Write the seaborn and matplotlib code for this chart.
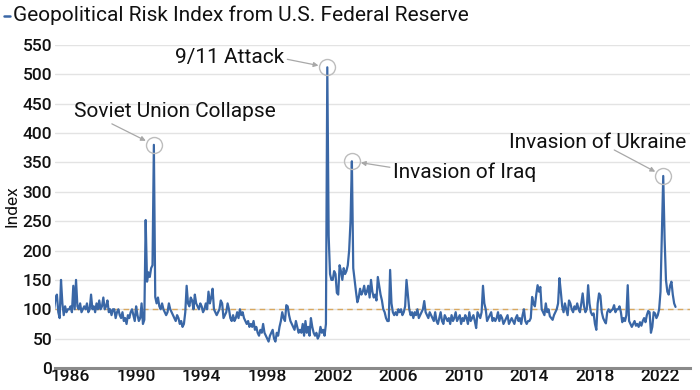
import numpy as np
import pandas as pd
import matplotlib
matplotlib.use("Agg")
import matplotlib.pyplot as plt
from matplotlib.lines import Line2D
import seaborn as sns

# ---------------- data (monthly, Jan 1985 - Dec 2022) ----------------
years = list(range(1985, 2023))
gpr_by_year = {
    1985: [100, 120, 125, 95, 85, 150, 110, 90, 105, 95, 100, 100],
    1986: [105, 95, 140, 100, 150, 105, 100, 110, 95, 100, 105, 100],
    1987: [110, 95, 100, 125, 100, 105, 95, 110, 100, 115, 100, 105],
    1988: [120, 100, 105, 115, 95, 100, 90, 100, 100, 85, 95, 100],
    1989: [90, 85, 95, 80, 85, 75, 90, 85, 95, 100, 90, 80],
    1990: [105, 90, 80, 85, 110, 75, 82, 252, 147, 163, 155, 170],
    1991: [175, 380, 121, 110, 120, 105, 100, 110, 100, 95, 90, 95],
    1992: [110, 100, 95, 90, 85, 80, 90, 85, 75, 80, 70, 75],
    1993: [95, 140, 110, 105, 120, 115, 100, 125, 110, 105, 100, 110],
    1994: [105, 95, 100, 110, 100, 130, 110, 120, 135, 100, 95, 90],
    1995: [95, 100, 115, 110, 85, 90, 95, 110, 100, 85, 80, 90],
    1996: [80, 85, 95, 85, 100, 90, 95, 85, 80, 75, 80, 70],
    1997: [75, 70, 80, 65, 70, 60, 55, 65, 60, 75, 60, 55],
    1998: [50, 45, 55, 60, 65, 50, 45, 60, 55, 70, 80, 95],
    1999: [85, 80, 107, 105, 90, 80, 75, 70, 65, 80, 70, 60],
    2000: [65, 60, 75, 55, 80, 60, 70, 55, 85, 70, 60, 55],
    2001: [60, 50, 55, 70, 60, 65, 55, 75, 512, 225, 160, 150],
    2002: [150, 165, 160, 128, 125, 175, 165, 150, 170, 160, 165, 175],
    2003: [200, 250, 352, 170, 150, 130, 112, 120, 135, 125, 130, 140],
    2004: [125, 130, 140, 120, 150, 130, 120, 125, 115, 155, 140, 125],
    2005: [115, 100, 95, 85, 80, 80, 167, 110, 95, 90, 95, 90],
    2006: [100, 95, 100, 90, 95, 105, 150, 125, 100, 90, 95, 85],
    2007: [95, 90, 100, 85, 90, 95, 100, 114, 95, 90, 85, 95],
    2008: [90, 85, 80, 95, 80, 75, 85, 95, 80, 75, 90, 85],
    2009: [80, 85, 75, 90, 80, 85, 95, 80, 85, 90, 75, 85],
    2010: [80, 90, 85, 75, 95, 80, 85, 90, 80, 68, 95, 90],
    2011: [85, 95, 140, 110, 100, 80, 85, 90, 95, 80, 85, 80],
    2012: [85, 95, 80, 90, 85, 75, 80, 85, 90, 75, 80, 85],
    2013: [80, 75, 85, 90, 80, 85, 75, 90, 100, 80, 75, 80],
    2014: [80, 85, 121, 110, 105, 125, 141, 130, 138, 100, 95, 90],
    2015: [110, 95, 100, 88, 85, 82, 90, 95, 100, 110, 153, 130],
    2016: [105, 95, 110, 100, 90, 115, 110, 100, 95, 105, 100, 110],
    2017: [100, 95, 110, 127, 105, 95, 100, 141, 110, 95, 90, 93],
    2018: [75, 65, 110, 127, 123, 95, 85, 80, 76, 95, 100, 95],
    2019: [98, 100, 107, 95, 100, 100, 105, 95, 78, 85, 80, 90],
    2020: [141, 80, 75, 70, 75, 80, 72, 75, 70, 78, 72, 80],
    2021: [85, 78, 90, 97, 95, 60, 70, 95, 93, 85, 90, 100],
    2022: [130, 230, 327, 220, 150, 130, 125, 140, 147, 125, 110, 104],
}
x_ticks = [1986, 1990, 1994, 1998, 2002, 2006, 2010, 2014, 2018, 2022]
y_ticks = [0, 50, 100, 150, 200, 250, 300, 350, 400, 450, 500, 550]
reference_level = 100

event_labels = ["Soviet Union Collapse", "9/11 Attack", "Invasion of Iraq", "Invasion of Ukraine"]
event_dates = [(1991, 2), (2001, 9), (2003, 3), (2022, 3)]

title = "Geopolitical Risk Index from U.S. Federal Reserve"

# ---------------- build frame ----------------
rows = []
for y in years:
    for m, v in enumerate(gpr_by_year[y], start=1):
        rows.append({"date": y + (m - 1) / 12.0, "GPR": v})
df = pd.DataFrame(rows)

# ---------------- style ----------------
sns.set_theme(style="white")
plt.rcParams["font.family"] = ["Roboto", "DejaVu Sans"]

LINE = "#3a67a6"
fig = plt.figure(figsize=(7.0, 3.9), dpi=100)
ax = fig.add_axes([55 / 700, 1 - 368 / 390, 635 / 700, 323 / 390])

for yv in y_ticks[1:]:
    ax.axhline(yv, color="#e3e3e3", lw=1.0, zorder=0)
ax.axhline(reference_level, color="#d9a860", lw=1.0, ls=(0, (4, 3)), zorder=1)

sns.lineplot(data=df, x="date", y="GPR", ax=ax, color=LINE, lw=1.6, zorder=3)

ax.set_xlim(1985.05, 2023.8)
ax.set_ylim(0, 550)
ax.set_xticks(x_ticks)
ax.set_xticklabels([str(t) for t in x_ticks])
ax.set_yticks(y_ticks)
ax.set_yticklabels([str(t) for t in y_ticks])
ax.tick_params(axis="both", labelsize=12.5, length=0, pad=2, colors="#111111")
for lab in ax.get_xticklabels() + ax.get_yticklabels():
    lab.set_fontweight("medium")
ax.tick_params(axis="x", pad=1)
for s in ["left", "right", "top"]:
    ax.spines[s].set_visible(False)
ax.spines["bottom"].set_color("#8a8a8a")
ax.spines["bottom"].set_linewidth(2.2)
ax.set_xlabel("")
ax.set_ylabel("Index", fontsize=12.5, labelpad=2, color="#111111")

# ---------------- annotations ----------------
# layout offsets in pixels: (text dx, dy, ha), (arrow tail dx, dy)
layout = [
    ((21, 33, "center"), (-42, 21)),
    ((-43, 10, "right"), (-40, 8)),
    ((41, -11, "left"), (38, -6)),
    ((-66, 33, "center"), (-49, 26)),
]
for label, (yy, mm), (txt, tail) in zip(event_labels, event_dates, layout):
    px = yy + (mm - 1) / 12.0
    py = gpr_by_year[yy][mm - 1]
    ax.plot([px], [py], marker="o", ms=11.5, mfc="none", mec="#bdbdbd", mew=1.0, zorder=4)
    ax.annotate(label, xy=(px, py), xytext=(txt[0], txt[1]), textcoords="offset pixels",
                ha=txt[2], va="center", fontsize=15, color="#111111")
    ax.annotate("", xy=(px, py), xytext=(tail[0], tail[1]), textcoords="offset pixels",
                arrowprops=dict(arrowstyle="-|>", color="#a8a8a8", lw=0.9,
                                mutation_scale=7, shrinkA=0, shrinkB=6.5),
                annotation_clip=False)

# ---------------- title (legend-like) ----------------
fig.add_artist(Line2D([4 / 700, 10 / 700], [1 - 16 / 390, 1 - 16 / 390], color=LINE, lw=1.8))
fig.text(13 / 700, 1 - 15 / 390, title, fontsize=15, va="center", ha="left", color="#111111")

fig.savefig("out.png", dpi=100)
